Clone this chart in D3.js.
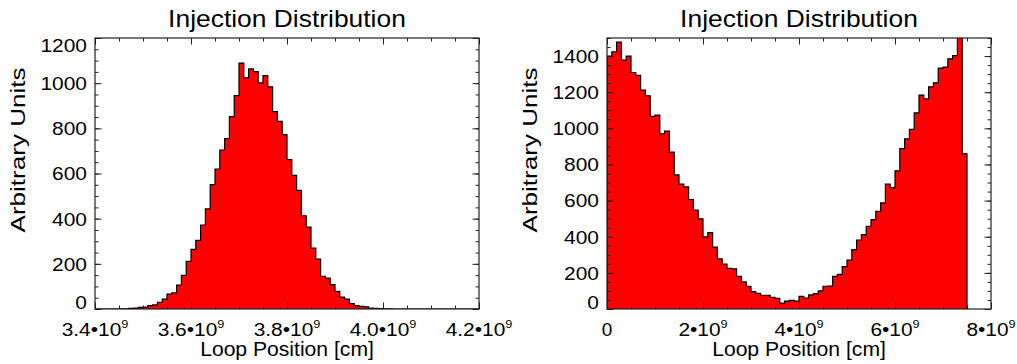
<!DOCTYPE html>
<html>
<head>
<meta charset="utf-8">
<script src="https://cdn.jsdelivr.net/npm/d3@7"></script>
<style>
  html, body { margin: 0; padding: 0; background: #fff; }
  svg { display: block; font-family: "Liberation Sans", Arial, Helvetica, sans-serif; }
</style>
</head>
<body>
<div id="chart"></div>
<script>
// histogram counts, one value per bin
const leftBinStart = 3.4e9;
const leftBinWidth = 1e7;
const leftCounts = [
  0, 0, 0, 0, 0, 1, 1, 3, 4, 7,
  8, 15, 18, 30, 44, 66, 72, 106, 149, 211,
  264, 304, 372, 443, 551, 620, 704, 754, 852, 945,
  1089, 1023, 1063, 1051, 1001, 1033, 984, 874, 831, 772,
  661, 592, 525, 413, 363, 270, 221, 145, 137, 108,
  78, 53, 44, 24, 15, 12, 9, 4, 3, 2,
  1, 1, 0, 0, 0, 0, 0, 0, 0, 0,
  0, 0, 0, 0, 0, 0, 0, 0, 0, 0
];

const rightBinStart = 0;
const rightBinWidth = 1e8;
const rightCounts = [
  1400, 1424, 1477, 1378, 1400, 1309, 1293, 1211, 1180, 1066,
  1073, 970, 984, 868, 742, 691, 676, 606, 547, 499,
  399, 423, 343, 277, 249, 225, 222, 181, 150, 126,
  96, 87, 76, 76, 65, 59, 33, 44, 48, 44,
  70, 61, 78, 85, 100, 126, 127, 181, 192, 235,
  270, 329, 382, 412, 458, 495, 541, 587, 691, 672,
  765, 888, 942, 994, 1086, 1184, 1163, 1230, 1252, 1333,
  1339, 1385, 1403, 1560, 859
];

// axis ticks and labels ([base, superscript])
const leftXTicks = [3.4e9, 3.6e9, 3.8e9, 4.0e9, 4.2e9];
const leftXLabels = [['3.4•10', '9'], ['3.6•10', '9'], ['3.8•10', '9'], ['4.0•10', '9'], ['4.2•10', '9']];
const leftYTicks = [0, 200, 400, 600, 800, 1000, 1200];
const rightXTicks = [0, 2e9, 4e9, 6e9, 8e9];
const rightXLabels = [['0', ''], ['2•10', '9'], ['4•10', '9'], ['6•10', '9'], ['8•10', '9']];
const rightYTicks = [0, 200, 400, 600, 800, 1000, 1200, 1400];

const titleText = 'Injection Distribution';
const xTitle = 'Loop Position [cm]';
const yTitle = 'Arbitrary Units';

const width = 1017, height = 364;
const frameTop = 38, frameBottom = 309;
const innerHeight = frameBottom - frameTop;
const innerWidth = 384;

const svg = d3.select('#chart').append('svg')
  .attr('width', width).attr('height', height)
  .attr('viewBox', `0 0 ${width} ${height}`);

const panels = [
  {
    left: 95, xDomain: [3.4e9, 4.2e9], xMinorStep: 0.05e9, yDomain: [0, 1200],
    xTicks: leftXTicks, xLabels: leftXLabels, yTicks: leftYTicks,
    binStart: leftBinStart, binWidth: leftBinWidth, counts: leftCounts,
  },
  {
    left: 607, xDomain: [0, 8e9], xMinorStep: 0.5e9, yDomain: [0, 1500],
    xTicks: rightXTicks, xLabels: rightXLabels, yTicks: rightYTicks,
    binStart: rightBinStart, binWidth: rightBinWidth, counts: rightCounts,
  },
];

// IDL fonts run wider than Helvetica: widen text along its run
function widen(t, sx) {
  const n = t.node().getComputedTextLength();
  return t.attr('textLength', n * sx).attr('lengthAdjust', 'spacingAndGlyphs');
}

const labels = svg.append('g').attr('fill', '#000');

panels.forEach((p, idx) => {
  const g = svg.append('g').attr('transform', `translate(${p.left},${frameTop})`);
  const x = d3.scaleLinear().domain(p.xDomain).range([p.left, p.left + innerWidth]);
  const y = d3.scaleLinear().domain(p.yDomain).range([frameBottom, frameTop]);
  const xl = (v) => x(v) - p.left;
  const yl = (v) => y(v) - frameTop;

  const clipId = `clip-${idx}`;
  g.append('clipPath').attr('id', clipId)
    .append('rect').attr('width', innerWidth).attr('height', innerHeight);

  // step outline of the histogram
  const pts = [[xl(p.binStart), yl(0)]];
  p.counts.forEach((c, i) => {
    const lo = p.binStart + i * p.binWidth;
    const hi = lo + p.binWidth;
    pts.push([xl(lo), yl(c)], [xl(hi), yl(c)]);
  });
  pts.push([xl(p.binStart + p.counts.length * p.binWidth), yl(0)]);
  const line = d3.line();

  const plot = g.append('g').attr('clip-path', `url(#${clipId})`);
  plot.append('path')
    .attr('d', line(pts) + 'Z')
    .attr('fill', '#ff0000')
    .attr('stroke', 'none');
  plot.append('path')
    .attr('d', line(pts))
    .attr('fill', 'none')
    .attr('stroke', '#000')
    .attr('stroke-width', 1.2);

  // ticks, pointing inward on all four sides
  const xs = x.copy().range([0, innerWidth]);
  const ys = y.copy().range([innerHeight, 0]);
  const xMinor = d3.range(p.xDomain[0], p.xDomain[1] + p.xMinorStep / 2, p.xMinorStep);
  const yMinor = d3.range(p.yDomain[0], p.yDomain[1] + 1, 50);
  const strip = (a) => { a.select('.domain').remove(); a.selectAll('text').remove(); };

  [[d3.axisBottom(xs), innerHeight], [d3.axisTop(xs), 0]].forEach(([axis, ty]) => {
    g.append('g').attr('transform', `translate(0,${ty})`)
      .call(axis.tickValues(xMinor).tickSize(-3.5)).call(strip);
    g.append('g').attr('transform', `translate(0,${ty})`)
      .call(axis.tickValues(p.xTicks).tickSize(-6.5)).call(strip);
  });
  [[d3.axisLeft(ys), 0], [d3.axisRight(ys), innerWidth]].forEach(([axis, tx]) => {
    g.append('g').attr('transform', `translate(${tx},0)`)
      .call(axis.tickValues(yMinor).tickSize(-3.5)).call(strip);
    g.append('g').attr('transform', `translate(${tx},0)`)
      .call(axis.tickValues(p.yTicks).tickSize(-6.5)).call(strip);
  });
  g.selectAll('.tick line').attr('stroke', '#222');

  // frame
  g.append('rect')
    .attr('width', innerWidth).attr('height', innerHeight)
    .attr('fill', 'none').attr('stroke', '#222').attr('stroke-width', 1.2);

  // tick labels
  p.xTicks.forEach((v, i) => {
    const [base, sup] = p.xLabels[i];
    const t = labels.append('text')
      .attr('x', x(v)).attr('y', frameBottom + 27)
      .attr('font-size', 19).attr('text-anchor', 'middle');
    t.append('tspan').text(base);
    if (sup) t.append('tspan').attr('dy', -8).attr('font-size', 11.5).text(sup);
  });
  // end labels are kept inside the frame's height
  p.yTicks.forEach((v) => {
    const cy = Math.max(frameTop + 7, Math.min(frameBottom - 7, y(v)));
    widen(labels.append('text')
      .attr('x', p.left - 8).attr('y', cy).attr('dy', '0.36em')
      .attr('font-size', 19).attr('text-anchor', 'end')
      .text(v), 1.1);
  });

  // titles
  const cx = p.left + innerWidth / 2;
  widen(labels.append('text')
    .attr('x', cx).attr('y', frameTop - 11)
    .attr('text-anchor', 'middle').attr('font-size', 24).text(titleText), 1.1);
  widen(labels.append('text')
    .attr('x', cx).attr('y', frameBottom + 47)
    .attr('text-anchor', 'middle').attr('font-size', 20.5).text(xTitle), 1.03);
  const ty = frameTop + 112, tx = p.left - 70;
  widen(labels.append('text')
    .attr('x', tx).attr('y', ty)
    .attr('transform', `rotate(-90,${tx},${ty})`)
    .attr('text-anchor', 'middle').attr('font-size', 21).text(yTitle), 1.24);
});

// superscripted labels are widened as one piece
labels.selectAll('text').filter(function () { return this.childNodes.length > 1; })
  .each(function () {
    const t = d3.select(this);
    const n = this.getComputedTextLength();
    const cx = +t.attr('x');
    t.attr('transform', `translate(${cx * (1 - 1.1)},0) scale(1.1,1)`);
  });
</script>
</body>
</html>
